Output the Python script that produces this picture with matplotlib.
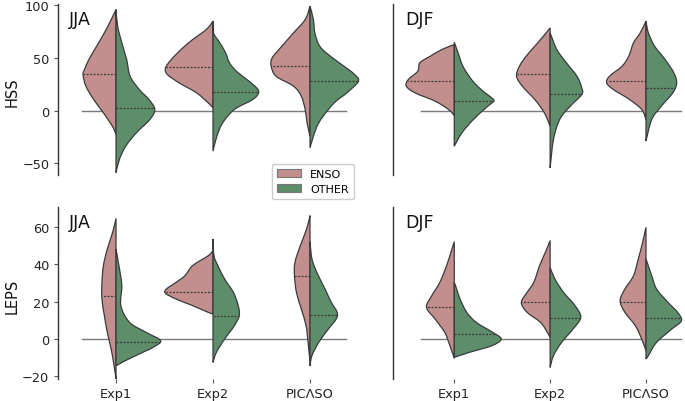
import numpy as np
import matplotlib
matplotlib.use("Agg")
import matplotlib.pyplot as plt
from matplotlib.patches import Patch, PathPatch
from matplotlib.path import Path

# ---------------- data ----------------
categories = ["Exp1", "Exp2", "PICΛSO"]
groups = ["ENSO", "OTHER"]
seasons = ["JJA", "DJF"]
metrics = ["HSS", "LEPS"]

# violin half profiles: (value, half-width in category units)
# HSS, JJA
hss_jja_enso_exp1 = [(95.9, 0), (86.4, .05), (73.8, .12), (61.1, .20), (48.4, .28), (40, .32), (34.2, .34),
                     (23.1, .31), (10.4, .23), (-2.2, .13), (-11.7, .06), (-17, .025), (-22.8, 0)]
hss_jja_enso_exp2 = [(84.8, 0), (76.9, .07), (67.4, .21), (57.9, .33), (48.4, .43), (40.5, .49), (34.2, .47),
                     (26.3, .35), (16.8, .17), (7.3, .05), (2.5, 0)]
hss_jja_enso_pic = [(99, 0), (86.4, .05), (73.8, .17), (61.1, .29), (50, .39), (42.1, .40), (32.6, .35),
                    (23.1, .17), (13.6, .09), (1, .05), (-11.7, .03), (-24.4, 0)]
hss_jja_other_exp1 = [(95.9, 0), (80, .017), (64.3, .06), (48.4, .11), (32.6, .145), (19.9, .24), (10.4, .34),
                      (1, .40), (-8.5, .35), (-21.2, .21), (-33.9, .10), (-46.5, .035), (-59, 0)]
hss_jja_other_exp2 = [(84.8, 0), (73.8, .005), (64.3, .07), (54.8, .13), (45.3, .17), (37.4, .24), (29.4, .35),
                      (21.5, .45), (16.8, .47), (10.4, .41), (1, .22), (-11.7, .10), (-24.4, .04), (-38.6, 0)]
hss_jja_other_pic = [(99, 0), (86.4, .035), (73.8, .05), (61.1, .10), (51.6, .21), (42.1, .35), (35, .45),
                     (27.9, .50), (16.8, .38), (9, .27), (1, .19), (-11.7, .09), (-24.4, .035), (-35.5, 0)]
# HSS, DJF
hss_djf_enso_exp1 = [(62.7, 0), (57.9, .13), (51.6, .25), (45.3, .36), (37.4, .38), (29.4, .48), (23.1, .50),
                     (16.8, .41), (8.9, .20), (1, .06), (-4.7, 0)]
hss_djf_enso_exp2 = [(78.5, 0), (70.6, .07), (61.1, .16), (51.6, .25), (42.1, .32), (32.6, .35), (23.1, .29),
                     (10.4, .16), (-2.2, .06), (-14.9, 0)]
hss_djf_enso_pic = [(84.8, 0), (73.8, .06), (64.3, .13), (51.6, .18), (42.1, .25), (32.6, .38), (26.3, .41),
                    (19.9, .34), (10.4, .17), (1, .045), (-8.5, 0)]
hss_djf_other_exp1 = [(64.9, 0), (54.8, .04), (42.1, .09), (29.4, .18), (19.9, .28), (12, .39), (8.9, .41),
                      (2.5, .33), (-8.5, .20), (-21.2, .08), (-33.9, 0)]
hss_djf_other_exp2 = [(73.8, 0), (57.9, .07), (45.3, .17), (32.6, .28), (21.5, .33), (15.2, .33), (4.1, .21),
                      (-8.5, .10), (-27.5, .035), (-54.4, 0)]
hss_djf_other_pic = [(84.8, 0), (73.8, .025), (61.1, .09), (48.4, .20), (35.8, .29), (26.3, .32), (16.8, .28),
                     (4.1, .16), (-8.5, .06), (-29, 0)]
# LEPS, JJA
leps_jja_enso_exp1 = [(64.6, 0), (57.1, .035), (48.2, .09), (39.3, .13), (30.4, .145), (21.4, .145), (12.5, .12),
                      (3.6, .09), (-5.4, .05), (-14.3, .02), (-21.4, 0)]
leps_jja_enso_exp2 = [(47.3, 0), (44.6, .05), (39.3, .21), (33.9, .29), (30.4, .38), (26.8, .48), (24.5, .49),
                      (21.4, .38), (17.9, .21), (14.3, .05), (13.4, 0)]
leps_jja_enso_pic = [(66.1, 0), (58.9, .035), (50, .10), (41.1, .155), (33.9, .16), (25, .14), (16.1, .09),
                     (7.1, .04), (-1.8, .02), (-12, 0)]
leps_jja_other_exp1 = [(48.2, 0), (39.3, .03), (28.6, .06), (17.9, .05), (8.9, .14), (3.6, .31), (-0.9, .46),
                       (-4.5, .38), (-6.5, .30), (-9.5, .18), (-12, .08), (-13.8, .02), (-14.3, 0)]
leps_jja_other_exp2 = [(53.6, 0), (44.6, .01), (39.3, .05), (32.1, .12), (25, .21), (17.9, .26), (12.5, .27),
                       (7.1, .22), (0, .12), (-7.1, .035), (-12.5, 0)]
leps_jja_other_pic = [(52.1, 0), (42.9, .02), (35.7, .07), (26.8, .155), (19.6, .22), (14.3, .28), (10.7, .27),
                      (5.4, .19), (-1.8, .09), (-8.9, .02), (-14.3, 0)]
# LEPS, DJF
leps_djf_enso_exp1 = [(52.1, 0), (46.4, .035), (39.3, .08), (30.4, .15), (23.2, .235), (17, .29), (10.7, .20),
                      (3.6, .10), (-3.6, .045), (-10.4, 0)]
leps_djf_enso_exp2 = [(52.7, 0), (46.4, .05), (39.3, .11), (30.4, .17), (25, .24), (19.6, .30), (14.3, .24),
                      (8.9, .10), (3.6, .03), (0.9, 0)]
leps_djf_enso_pic = [(59.8, 0), (51.8, .035), (42.9, .08), (33.9, .13), (26.8, .22), (20.5, .27), (14.3, .22),
                     (7.1, .11), (0, .045), (-6.25, 0)]
leps_djf_other_exp1 = [(30.4, 0), (26.8, .025), (21.4, .06), (14.3, .13), (8.9, .23), (3.6, .40), (0, .49),
                       (-3.6, .39), (-7.1, .16), (-9.8, 0)]
leps_djf_other_exp2 = [(38.4, 0), (32.1, .05), (25, .14), (17.9, .26), (11.6, .32), (5.4, .24), (-1.8, .12),
                       (-8.9, .035), (-15.2, 0)]
leps_djf_other_pic = [(42.9, 0), (33.9, .06), (26.8, .11), (19.6, .23), (14.3, .33), (9.8, .37), (5.4, .27),
                      (-1.8, .11), (-8.9, .025), (-10.7, 0)]

# medians (dotted lines)
hss_jja_enso_med = [34.5, 41.2, 42.1]
hss_jja_other_med = [2.3, 17.4, 28.5]
hss_djf_enso_med = [28.5, 34.8, 28.5]
hss_djf_other_med = [8.9, 16.1, 21.5]
leps_jja_enso_med = [23.0, 25.4, 33.9]
leps_jja_other_med = [-1.4, 12.5, 12.9]
leps_djf_enso_med = [17.0, 19.6, 20.0]
leps_djf_other_med = [2.7, 11.1, 11.1]

hss_ticks = [-50, 0, 50, 100]
leps_ticks = [-20, 0, 20, 40, 60]

panels = {
    ("HSS", "JJA"): ([hss_jja_enso_exp1, hss_jja_enso_exp2, hss_jja_enso_pic],
                     [hss_jja_other_exp1, hss_jja_other_exp2, hss_jja_other_pic],
                     hss_jja_enso_med, hss_jja_other_med),
    ("HSS", "DJF"): ([hss_djf_enso_exp1, hss_djf_enso_exp2, hss_djf_enso_pic],
                     [hss_djf_other_exp1, hss_djf_other_exp2, hss_djf_other_pic],
                     hss_djf_enso_med, hss_djf_other_med),
    ("LEPS", "JJA"): ([leps_jja_enso_exp1, leps_jja_enso_exp2, leps_jja_enso_pic],
                      [leps_jja_other_exp1, leps_jja_other_exp2, leps_jja_other_pic],
                      leps_jja_enso_med, leps_jja_other_med),
    ("LEPS", "DJF"): ([leps_djf_enso_exp1, leps_djf_enso_exp2, leps_djf_enso_pic],
                      [leps_djf_other_exp1, leps_djf_other_exp2, leps_djf_other_pic],
                      leps_djf_enso_med, leps_djf_other_med),
}

# ---------------- style ----------------
C_ENSO = "#c28f8e"
C_OTHER = "#5e8d6b"
EDGE = "#3a3a3a"
W, H = 685, 402

fig = plt.figure(figsize=(W / 100, H / 100), dpi=100)

# pixel layout
col_layout = {"JJA": (58.3, 309.9, (-0.595, 2.6)), "DJF": (393.3, 310.2, (-0.636, 2.6))}
row_layout = {"HSS": (5.0, 175.7, (-61.0, 101.2), hss_ticks),
              "LEPS": (208.0, 380.0, (-21.4, 70.7), leps_ticks)}


def smooth_outline(w, v):
    """Bezier (Catmull-Rom style) outline through the read points; control widths kept >= 0."""
    n = len(w)
    verts = [(w[0], v[0])]
    codes = [Path.MOVETO]
    for i in range(n - 1):
        i0, i2 = max(i - 1, 0), min(i + 2, n - 1)
        c1w = w[i] + (w[i + 1] - w[i0]) / 6.0
        c1v = v[i] + (v[i + 1] - v[i0]) / 6.0
        c2w = w[i + 1] - (w[i2] - w[i]) / 6.0
        c2v = v[i + 1] - (v[i2] - v[i]) / 6.0
        verts += [(max(c1w, 0), c1v), (max(c2w, 0), c2v), (w[i + 1], v[i + 1])]
        codes += [Path.CURVE4] * 3
    verts += [(w[0], v[0]), (w[0], v[0])]
    codes += [Path.LINETO, Path.CLOSEPOLY]
    return np.array(verts), codes


def draw_half(ax, pos, prof, side, color, med):
    v = np.array([p[0] for p in prof], float)
    w = np.array([p[1] for p in prof], float)
    verts, codes = smooth_outline(w, v)
    verts[:, 0] = pos + side * verts[:, 0]
    ax.add_patch(PathPatch(Path(verts, codes), facecolor=color, edgecolor=EDGE, lw=0.9, zorder=2))
    wm = np.interp(med, v[::-1], w[::-1])
    ax.plot([pos, pos + side * wm], [med, med], ls=(0, (1.6, 1.2)), color="#3a3a3a", lw=0.9, zorder=3)


for metric in metrics:
    top, bot, ylim, yticks = row_layout[metric]
    for season in seasons:
        left, width, xlim = col_layout[season]
        ax = fig.add_axes([left / W, 1 - bot / H, width / W, (bot - top) / H])
        ax.set_xlim(*xlim)
        ax.set_ylim(*ylim)
        for s in ["top", "right", "bottom"]:
            ax.spines[s].set_visible(False)
        ax.spines["left"].set_color("#333333")
        ax.spines["left"].set_linewidth(1.0)
        ax.patch.set_alpha(0)
        ax.plot([-0.35, 2.37], [0, 0], color="#7a7a7a", lw=1.0, zorder=1)
        enso, other, m_e, m_o = panels[(metric, season)]
        for i in range(len(categories)):
            draw_half(ax, i, enso[i], -1, C_ENSO, m_e[i])
            draw_half(ax, i, other[i], +1, C_OTHER, m_o[i])
        ax.set_yticks(yticks)
        ax.tick_params(axis="both", length=3, width=0.8, color="#555555", labelsize=9.3, labelcolor="#222222")
        if season == "DJF":
            ax.tick_params(axis="y", left=False, labelleft=False)
        if metric == "LEPS":
            ax.set_xticks(range(len(categories)))
            ax.set_xticklabels(categories)
            ax.tick_params(axis="x", pad=3)
        else:
            ax.set_xticks([])
        ax.annotate(season, xy=(0, 1), xycoords="axes fraction",
                    xytext=(7.5 if season == "JJA" else 8.5, -4), textcoords="offset points",
                    ha="left", va="top", fontsize=12.5, color="#111111")

fig.text(12 / W, 1 - 92 / H, "HSS", rotation=90, ha="center", va="center", fontsize=10.5, color="#111111")
fig.text(12 / W, 1 - 296 / H, "LEPS", rotation=90, ha="center", va="center", fontsize=10.5, color="#111111")

handles = [Patch(facecolor=C_ENSO, edgecolor="#777777", lw=0.8, label=groups[0]),
           Patch(facecolor=C_OTHER, edgecolor="#777777", lw=0.8, label=groups[1])]
fig.legend(handles=handles, loc="center", bbox_to_anchor=(312.8 / W, 1 - 182.5 / H),
           fontsize=8, handlelength=2.15, handleheight=0.75, labelspacing=0.45,
           framealpha=1, edgecolor="#cccccc", borderpad=0.45)

fig.savefig("out.png", dpi=100)
